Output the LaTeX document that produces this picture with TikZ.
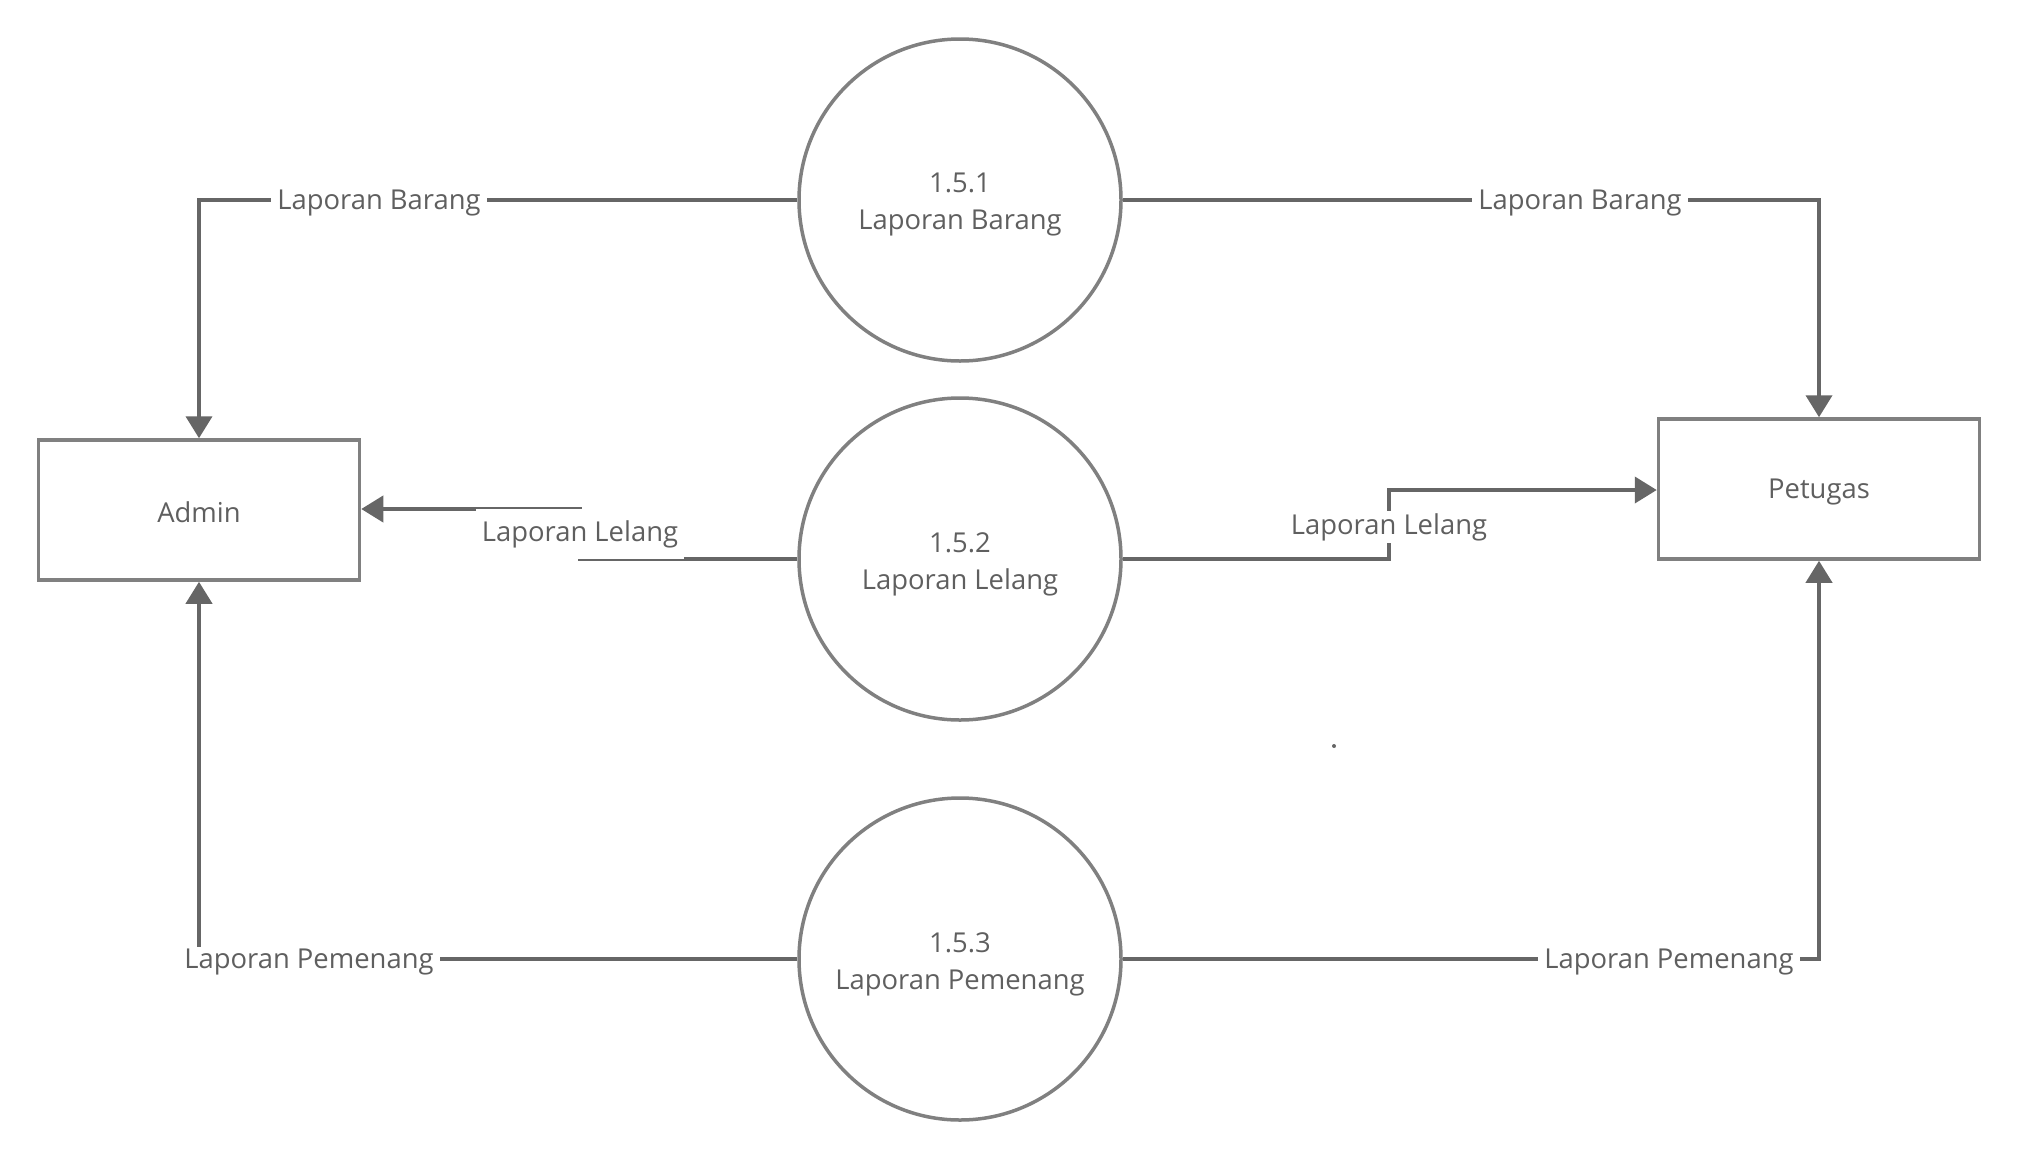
\documentclass[tikz,border=0pt]{standalone}
\usepackage{fontspec}
\setmainfont{Open Sans}
\usetikzlibrary{arrows.meta}
\definecolor{boxgray}{HTML}{808080}
\definecolor{linegray}{HTML}{666666}
\definecolor{txtgray}{HTML}{5F5F5F}
\begin{document}
\begin{tikzpicture}[x=1pt,y=-1pt,
  txt/.style={text=txtgray, font=\fontsize{27.4}{37}\selectfont},
  proc/.style={circle, draw=boxgray, line width=3.5pt, minimum size=322pt, inner sep=0pt},
  ptxt/.style={txt, align=center, yshift=-5pt},
  ent/.style={rectangle, draw=boxgray, line width=3.5pt, minimum width=321pt, minimum height=140pt},
  flow/.style={draw=linegray, line width=4pt, -{Triangle[length=22pt,width=26pt]}},
  lbl/.style={txt, fill=white, inner xsep=6pt, inner ysep=2pt, yshift=-3pt}
]
\useasboundingbox (0,0) rectangle (2021,1160);

\node[proc] (p1) at (960,200) {};
\node[proc] (p2) at (960,559) {};
\node[proc] (p3) at (960,959) {};
\node[ent] (admin) at (199,510) {};
\node[ent] (pet) at (1819,489) {};
\node[ptxt] (t1) at (p1.center) {1.5.1\\Laporan Barang};
\node[ptxt] (t2) at (p2.center) {1.5.2\\Laporan Lelang};
\node[ptxt] (t3) at (p3.center) {1.5.3\\Laporan Pemenang};
\node[txt, yshift=-2pt] (ta) at (admin.center) {Admin};
\node[txt, yshift=-3pt] (tp) at (pet.center) {Petugas};

\coordinate (la) at (580,559);
\coordinate (lb) at (580,509);
\coordinate (ra) at (1389,559);
\coordinate (rb) at (1389,490);

\draw[flow] (p1.west) -| (admin.north);
\draw[flow] (p1.east) -| (pet.north);
\draw[flow] (p2.west) -- (la) -- (lb) -- (lb -| admin.east);
\draw[flow] (p2.east) -- (ra) -- (rb) -- (rb -| pet.west);
\draw[flow] (p3.west) -| (admin.south);
\draw[flow] (p3.east) -| (pet.south);

\node[lbl] (l1) at (379,200) {Laporan Barang};
\node[lbl] (l2) at (1580,200) {Laporan Barang};
\node[lbl, minimum height=50pt, yshift=3pt] (l3) at (580,534) {Laporan Lelang};
\node[lbl] (l4) at (1389,524) {Laporan Lelang};
\node[lbl] (l5) at (309,959) {Laporan Pemenang};
\node[lbl] (l6) at (1669,959) {Laporan Pemenang};

\fill[linegray] (1334,746) circle (2pt);
\end{tikzpicture}
\end{document}
